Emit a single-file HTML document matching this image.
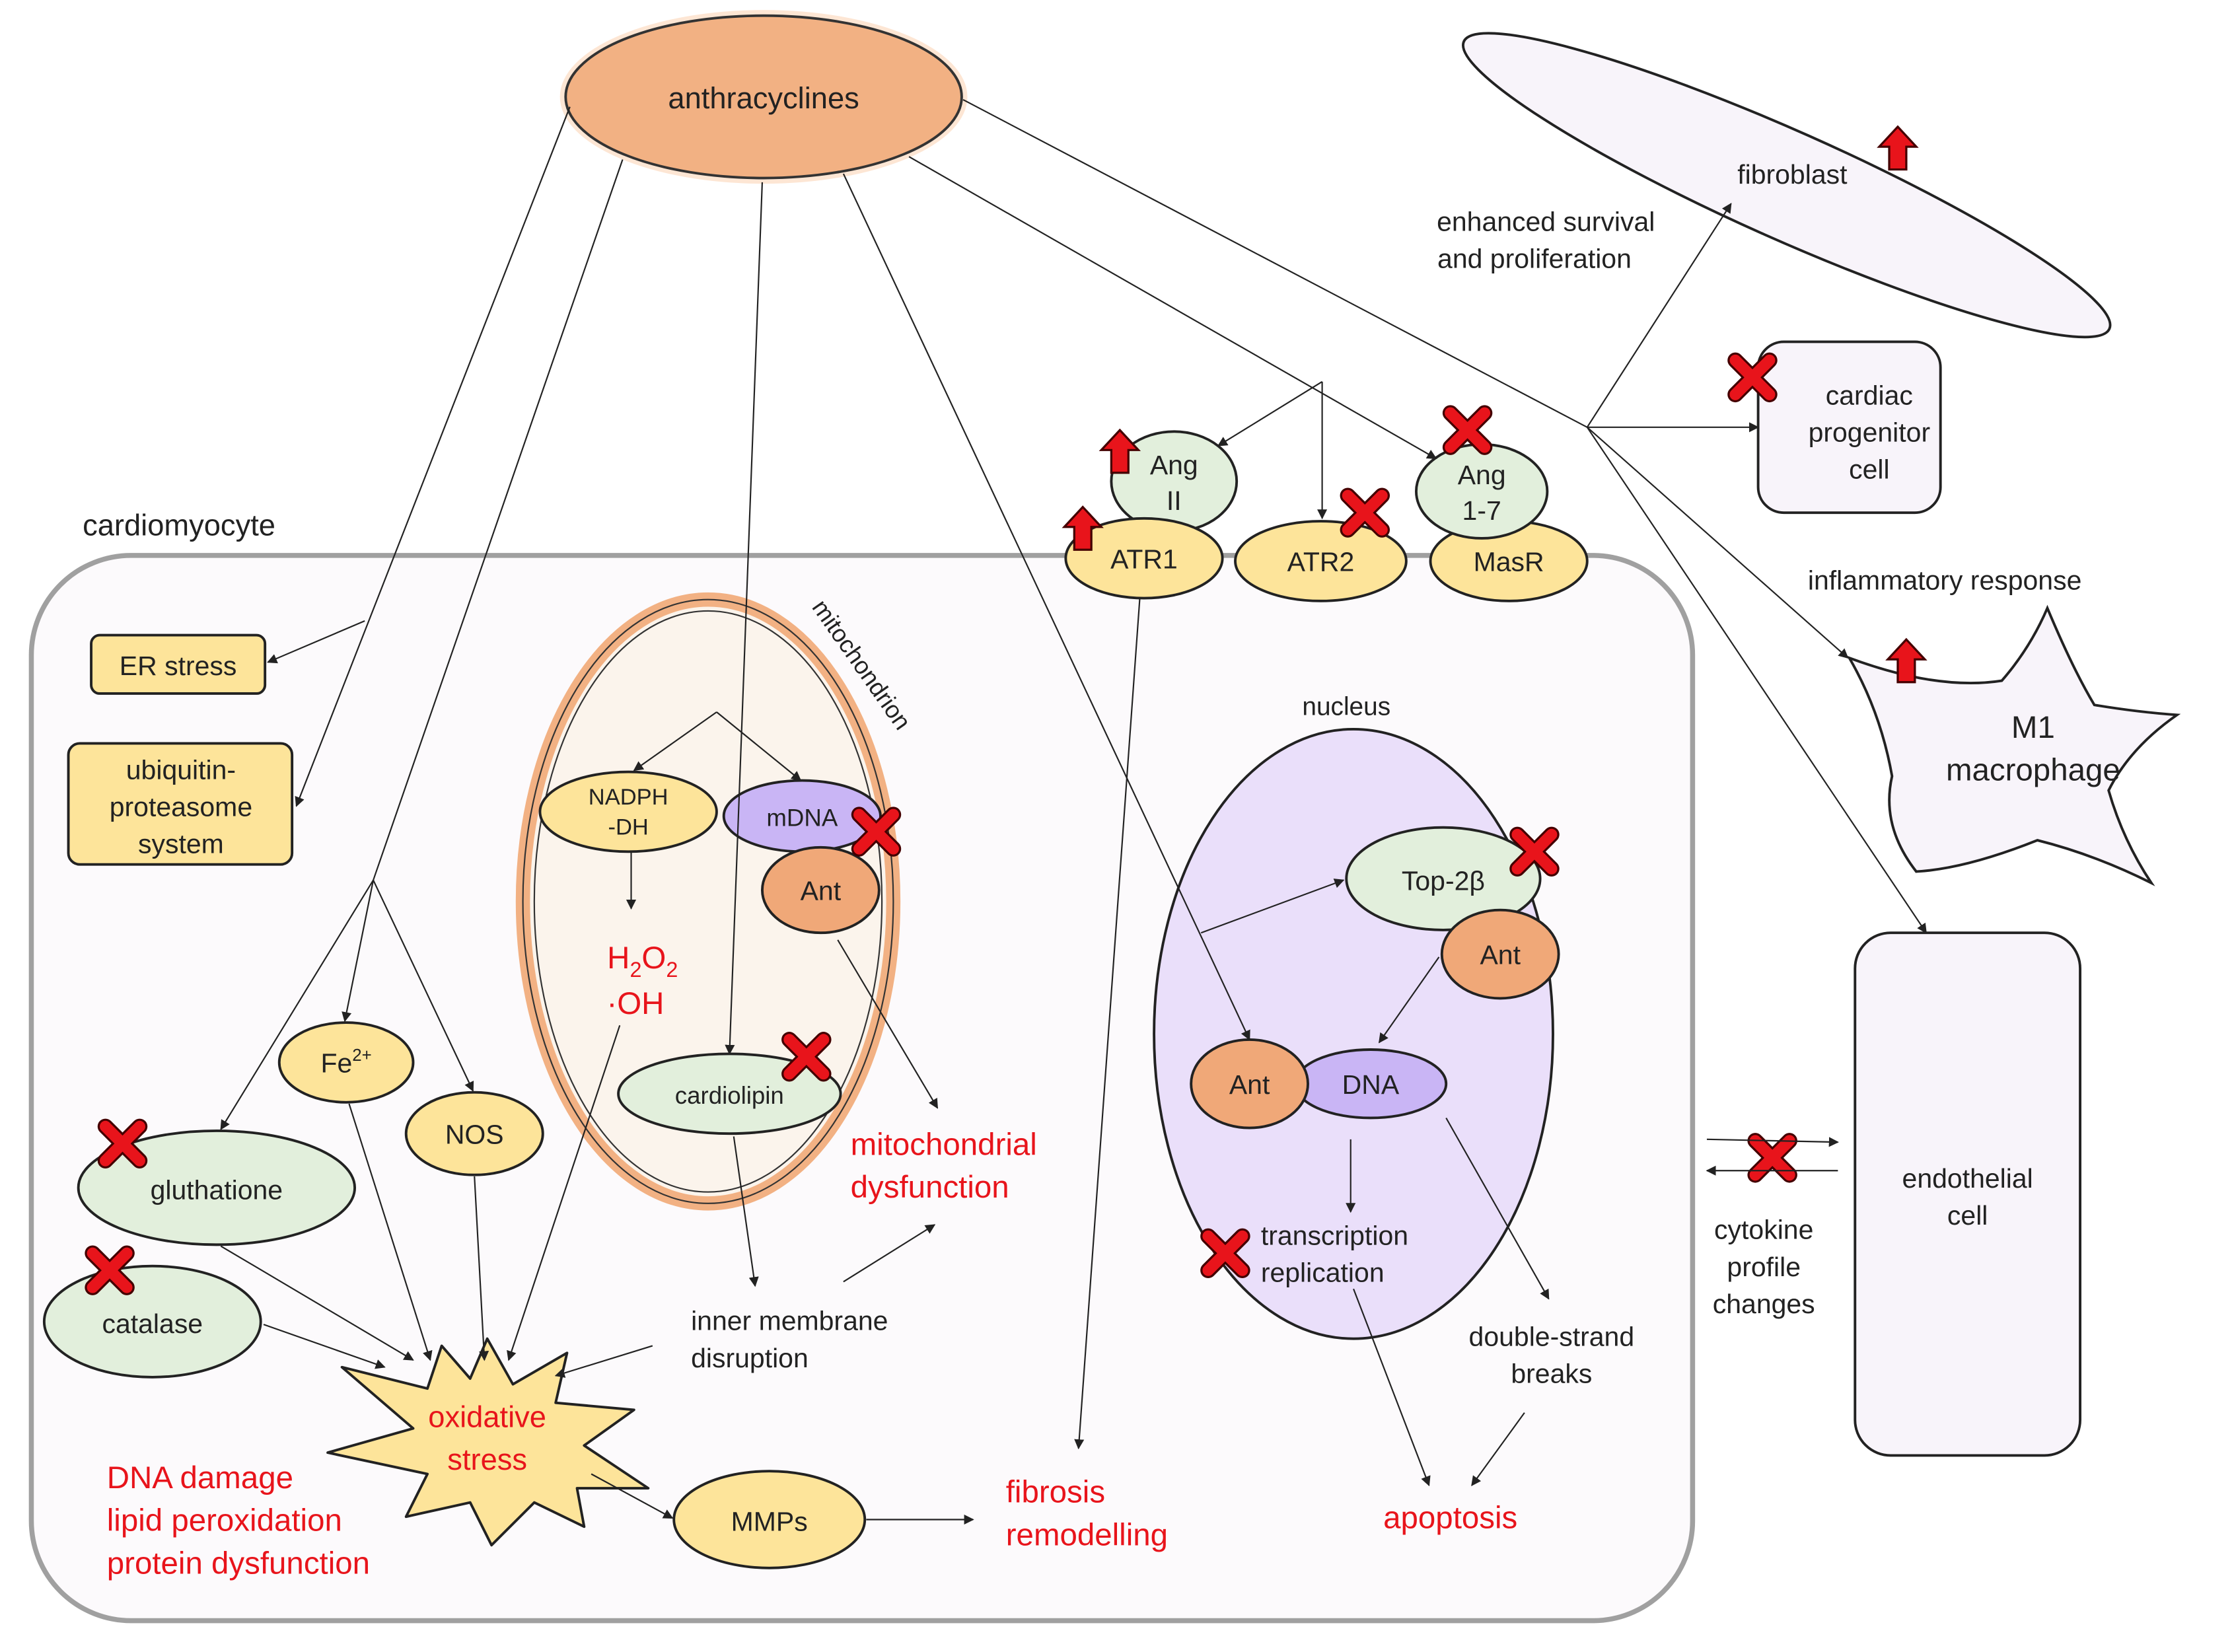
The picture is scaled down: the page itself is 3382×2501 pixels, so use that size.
<!DOCTYPE html>
<html><head><meta charset="utf-8"><style>
html,body{margin:0;padding:0;background:#fff;}
svg{display:block;}
text{font-family:"Liberation Sans","DejaVu Sans",sans-serif;}
</style></head><body>
<svg width="3382" height="2501" viewBox="0 0 1568 1160" preserveAspectRatio="none" xmlns="http://www.w3.org/2000/svg">
<defs>
<marker id="a" viewBox="0 0 10 10" refX="9" refY="5" markerWidth="7" markerHeight="7" orient="auto-start-reverse"><path d="M0,0 L10,5 L0,10 z" fill="#222"/></marker>
<g id="x"><path d="M-12,-12 L12,12 M12,-12 L-12,12" stroke="#400" stroke-width="11" stroke-linecap="round"/><path d="M-12,-12 L12,12 M12,-12 L-12,12" stroke="#e8141b" stroke-width="8" stroke-linecap="round"/></g>
<g id="u"><path d="M0,-16 L13,-2 L6,-2 L6,14 L-6,14 L-6,-2 L-13,-2 z" fill="#e8141b" stroke="#400" stroke-width="1.5"/></g>
</defs>
<rect width="1568" height="1160" fill="#fff"/>

<!-- external cells -->
<ellipse cx="1254" cy="130" rx="248" ry="38" transform="rotate(24 1254 130)" fill="#f8f4fa" stroke="#222" stroke-width="1.8"/>
<text x="1258" y="129" font-size="19" text-anchor="middle" fill="#222">fibroblast</text>
<use href="#u" x="1332" y="105"/>
<text x="1085" y="162" font-size="19" text-anchor="middle" fill="#222">enhanced survival</text>
<text x="1077" y="188" font-size="19" text-anchor="middle" fill="#222">and proliferation</text>

<rect x="1234" y="240" width="128" height="120" rx="18" fill="#f8f4fa" stroke="#222" stroke-width="1.8"/>
<text x="1312" y="284" font-size="19" text-anchor="middle" fill="#222">cardiac</text>
<text x="1312" y="310" font-size="19" text-anchor="middle" fill="#222">progenitor</text>
<text x="1312" y="336" font-size="19" text-anchor="middle" fill="#222">cell</text>
<use href="#x" x="1230" y="265"/>

<text x="1365" y="414" font-size="19" text-anchor="middle" fill="#222">inflammatory response</text>
<path d="M1298,462 Q1360,485 1405,478 Q1425,455 1437,427 Q1455,470 1470,495 Q1500,500 1528,502 Q1495,525 1480,555 Q1490,590 1510,620 Q1470,600 1430,590 Q1380,610 1345,612 Q1320,580 1328,545 Q1320,500 1298,462 z" fill="#f8f4fa" stroke="#222" stroke-width="1.8"/>
<text x="1427" y="518" font-size="22" text-anchor="middle" fill="#222">M1</text>
<text x="1427" y="548" font-size="22" text-anchor="middle" fill="#222">macrophage</text>
<use href="#u" x="1338" y="465"/>

<rect x="1302" y="655" width="158" height="367" rx="25" fill="#f8f4fa" stroke="#222" stroke-width="1.8"/>
<text x="1381" y="834" font-size="19" text-anchor="middle" fill="#222">endothelial</text>
<text x="1381" y="860" font-size="19" text-anchor="middle" fill="#222">cell</text>

<!-- cardiomyocyte -->
<text x="58" y="376" font-size="21" fill="#222">cardiomyocyte</text>
<rect x="22" y="390" width="1166" height="748" rx="70" fill="#fcfafc" stroke="#a0a0a0" stroke-width="3.5"/>

<rect x="64" y="446" width="122" height="41" rx="6" fill="#fde49a" stroke="#222" stroke-width="1.8"/>
<text x="125" y="474" font-size="19" text-anchor="middle" fill="#222">ER stress</text>
<rect x="48" y="522" width="157" height="85" rx="8" fill="#fde49a" stroke="#222" stroke-width="1.8"/>
<text x="127" y="547" font-size="19" text-anchor="middle" fill="#222">ubiquitin-</text>
<text x="127" y="573" font-size="19" text-anchor="middle" fill="#222">proteasome</text>
<text x="127" y="599" font-size="19" text-anchor="middle" fill="#222">system</text>

<!-- mitochondrion -->
<ellipse cx="497" cy="633" rx="130" ry="212" fill="#fbf4ec" stroke="#f2b183" stroke-width="10"/>
<ellipse cx="497" cy="633" rx="130" ry="212" fill="none" stroke="#333" stroke-width="1"/>
<ellipse cx="497" cy="633" rx="122" ry="204" fill="none" stroke="#333" stroke-width="1"/>
<text x="600" y="470" font-size="17" fill="#222" transform="rotate(55 600 470)" text-anchor="middle">mitochondrion</text>

<ellipse cx="441" cy="570" rx="62" ry="28" fill="#fde49a" stroke="#222" stroke-width="1.8"/>
<text x="441" y="565" font-size="16" text-anchor="middle" fill="#222">NADPH</text>
<text x="441" y="586" font-size="16" text-anchor="middle" fill="#222">-DH</text>
<ellipse cx="563" cy="573" rx="55" ry="25" fill="#c9b5f5" stroke="#222" stroke-width="1.8"/>
<text x="563" y="580" font-size="17" text-anchor="middle" fill="#222">mDNA</text>
<ellipse cx="576" cy="625" rx="41" ry="30" fill="#f0a878" stroke="#222" stroke-width="1.8"/>
<text x="576" y="632" font-size="19" text-anchor="middle" fill="#222">Ant</text>
<use href="#x" x="615" y="584"/>
<text x="451" y="680" font-size="22" text-anchor="middle" fill="#e8141b">H<tspan font-size="15" dy="6">2</tspan><tspan dy="-6">O</tspan><tspan font-size="15" dy="6">2</tspan></text>
<text x="446" y="712" font-size="22" text-anchor="middle" fill="#e8141b">·OH</text>
<ellipse cx="512" cy="768" rx="78" ry="28" fill="#e2efdc" stroke="#222" stroke-width="1.8"/>
<text x="512" y="775" font-size="17" text-anchor="middle" fill="#222">cardiolipin</text>
<use href="#x" x="566" y="742"/>

<text x="597" y="811" font-size="22" fill="#e8141b">mitochondrial</text>
<text x="597" y="841" font-size="22" fill="#e8141b">dysfunction</text>
<text x="485" y="934" font-size="19" fill="#222">inner membrane</text>
<text x="485" y="960" font-size="19" fill="#222">disruption</text>

<!-- left nodes -->
<ellipse cx="243" cy="746" rx="47" ry="28" fill="#fde49a" stroke="#222" stroke-width="1.8"/>
<text x="243" y="753" font-size="19" text-anchor="middle" fill="#222">Fe<tspan font-size="12" dy="-8">2+</tspan></text>
<ellipse cx="333" cy="796" rx="48" ry="29" fill="#fde49a" stroke="#222" stroke-width="1.8"/>
<text x="333" y="803" font-size="19" text-anchor="middle" fill="#222">NOS</text>
<ellipse cx="152" cy="834" rx="97" ry="40" fill="#e2efdc" stroke="#222" stroke-width="1.8"/>
<text x="152" y="842" font-size="19" text-anchor="middle" fill="#222">gluthatione</text>
<use href="#x" x="86" y="803"/>
<ellipse cx="107" cy="928" rx="76" ry="39" fill="#e2efdc" stroke="#222" stroke-width="1.8"/>
<text x="107" y="936" font-size="19" text-anchor="middle" fill="#222">catalase</text>
<use href="#x" x="77" y="892"/>

<path d="M342,940 L360,972 L398,950 L390,985 L445,990 L410,1015 L455,1045 L405,1045 L410,1072 L375,1055 L345,1085 L330,1055 L285,1065 L300,1035 L230,1020 L290,1003 L240,960 L300,975 L310,945 L330,968 z" fill="#fde49a" stroke="#222" stroke-width="1.8" stroke-linejoin="round"/>
<text x="342" y="1002" font-size="21" text-anchor="middle" fill="#e8141b">oxidative</text>
<text x="342" y="1032" font-size="21" text-anchor="middle" fill="#e8141b">stress</text>
<text x="75" y="1045" font-size="22" fill="#e8141b">DNA damage</text>
<text x="75" y="1075" font-size="22" fill="#e8141b">lipid peroxidation</text>
<text x="75" y="1105" font-size="22" fill="#e8141b">protein dysfunction</text>

<ellipse cx="540" cy="1067" rx="67" ry="34" fill="#fde49a" stroke="#222" stroke-width="1.8"/>
<text x="540" y="1075" font-size="19" text-anchor="middle" fill="#222">MMPs</text>
<text x="706" y="1055" font-size="22" fill="#e8141b">fibrosis</text>
<text x="706" y="1085" font-size="22" fill="#e8141b">remodelling</text>

<!-- receptors -->
<ellipse cx="824" cy="338" rx="44" ry="35" fill="#e2efdc" stroke="#222" stroke-width="1.8"/>
<text x="824" y="333" font-size="19" text-anchor="middle" fill="#222">Ang</text>
<text x="824" y="358" font-size="19" text-anchor="middle" fill="#222">II</text>
<use href="#u" x="786" y="318"/>
<ellipse cx="803" cy="392" rx="55" ry="28" fill="#fde49a" stroke="#222" stroke-width="1.8"/>
<text x="803" y="399" font-size="19" text-anchor="middle" fill="#222">ATR1</text>
<use href="#u" x="760" y="372"/>
<ellipse cx="927" cy="394" rx="60" ry="28" fill="#fde49a" stroke="#222" stroke-width="1.8"/>
<text x="927" y="401" font-size="19" text-anchor="middle" fill="#222">ATR2</text>
<use href="#x" x="958" y="360"/>
<ellipse cx="1059" cy="394" rx="55" ry="28" fill="#fde49a" stroke="#222" stroke-width="1.8"/>
<text x="1059" y="401" font-size="19" text-anchor="middle" fill="#222">MasR</text>
<ellipse cx="1040" cy="345" rx="46" ry="33" fill="#e2efdc" stroke="#222" stroke-width="1.8"/>
<text x="1040" y="340" font-size="19" text-anchor="middle" fill="#222">Ang</text>
<text x="1040" y="365" font-size="19" text-anchor="middle" fill="#222">1-7</text>
<use href="#x" x="1030" y="302"/>

<!-- nucleus -->
<text x="945" y="502" font-size="18" text-anchor="middle" fill="#222">nucleus</text>
<ellipse cx="950" cy="726" rx="140" ry="214" fill="#eadffa" stroke="#222" stroke-width="1.8"/>
<ellipse cx="1013" cy="617" rx="68" ry="36" fill="#e2efdc" stroke="#222" stroke-width="1.8"/>
<text x="1013" y="625" font-size="19" text-anchor="middle" fill="#222">Top-2β</text>
<use href="#x" x="1077" y="598"/>
<ellipse cx="1053" cy="670" rx="41" ry="31" fill="#f0a878" stroke="#222" stroke-width="1.8"/>
<text x="1053" y="677" font-size="19" text-anchor="middle" fill="#222">Ant</text>
<ellipse cx="962" cy="761" rx="53" ry="24" fill="#c9b5f5" stroke="#222" stroke-width="1.8"/>
<text x="962" y="768" font-size="19" text-anchor="middle" fill="#222">DNA</text>
<ellipse cx="877" cy="761" rx="41" ry="31" fill="#f0a878" stroke="#222" stroke-width="1.8"/>
<text x="877" y="768" font-size="19" text-anchor="middle" fill="#222">Ant</text>
<text x="885" y="874" font-size="19" fill="#222">transcription</text>
<text x="885" y="900" font-size="19" fill="#222">replication</text>
<use href="#x" x="860" y="880"/>
<text x="1089" y="945" font-size="19" text-anchor="middle" fill="#222">double-strand</text>
<text x="1089" y="971" font-size="19" text-anchor="middle" fill="#222">breaks</text>
<text x="1018" y="1073" font-size="22" text-anchor="middle" fill="#e8141b">apoptosis</text>

<text x="1238" y="870" font-size="19" text-anchor="middle" fill="#222">cytokine</text>
<text x="1238" y="896" font-size="19" text-anchor="middle" fill="#222">profile</text>
<text x="1238" y="922" font-size="19" text-anchor="middle" fill="#222">changes</text>
<use href="#x" x="1244" y="813"/>

<!-- anthracyclines -->
<ellipse cx="536" cy="68" rx="143" ry="61" fill="#fbd5b8" opacity="0.6"/>
<ellipse cx="536" cy="68" rx="139" ry="57" fill="#f2b183" stroke="#333" stroke-width="1.8"/>
<text x="536" y="76" font-size="21" text-anchor="middle" fill="#222">anthracyclines</text>

<!-- connectors -->
<g stroke="#222" stroke-width="1" fill="none">
<path d="M400,75 L208,566" marker-end="url(#a)"/>
<path d="M256,436 L188,465" marker-end="url(#a)"/>
<path d="M437,112 L262,618 L155,793" marker-end="url(#a)"/>
<path d="M262,618 L242,717" marker-end="url(#a)"/>
<path d="M262,618 L332,766" marker-end="url(#a)"/>
<path d="M535,128 L512,740" marker-end="url(#a)"/>
<path d="M503,500 L445,541" marker-end="url(#a)"/>
<path d="M503,500 L562,548" marker-end="url(#a)"/>
<path d="M592,122 L877,730" marker-end="url(#a)"/>
<path d="M638,110 L1008,322" marker-end="url(#a)"/>
<path d="M928,268 L855,313" marker-end="url(#a)"/>
<path d="M928,268 L928,364" marker-end="url(#a)"/>
<path d="M676,70 L1114,300" />
<path d="M1114,300 L1215,143" marker-end="url(#a)"/>
<path d="M1114,300 L1234,300" marker-end="url(#a)"/>
<path d="M1114,300 L1297,462" marker-end="url(#a)"/>
<path d="M1114,300 L1352,655" marker-end="url(#a)"/>
<path d="M800,420 L757,1017" marker-end="url(#a)"/>
<path d="M843,655 L943,618" marker-end="url(#a)"/>
<path d="M1010,672 L968,732" marker-end="url(#a)"/>
<path d="M948,800 L948,851" marker-end="url(#a)"/>
<path d="M1015,785 L1087,912" marker-end="url(#a)"/>
<path d="M950,905 L1003,1043" marker-end="url(#a)"/>
<path d="M1070,992 L1033,1043" marker-end="url(#a)"/>
<path d="M443,598 L443,638" marker-end="url(#a)"/>
<path d="M435,720 L357,955" marker-end="url(#a)"/>
<path d="M588,660 L658,778" marker-end="url(#a)"/>
<path d="M515,798 L530,903" marker-end="url(#a)"/>
<path d="M592,900 L656,860" marker-end="url(#a)"/>
<path d="M458,945 L390,966" marker-end="url(#a)"/>
<path d="M155,875 L290,955" marker-end="url(#a)"/>
<path d="M185,930 L270,960" marker-end="url(#a)"/>
<path d="M245,775 L302,955" marker-end="url(#a)"/>
<path d="M333,826 L340,955" marker-end="url(#a)"/>
<path d="M415,1035 L472,1066" marker-end="url(#a)"/>
<path d="M608,1067 L683,1067" marker-end="url(#a)"/>
<path d="M1198,800 L1290,802" marker-end="url(#a)"/>
<path d="M1290,822 L1198,822" marker-end="url(#a)"/>
</g>
</svg>
</body></html>
